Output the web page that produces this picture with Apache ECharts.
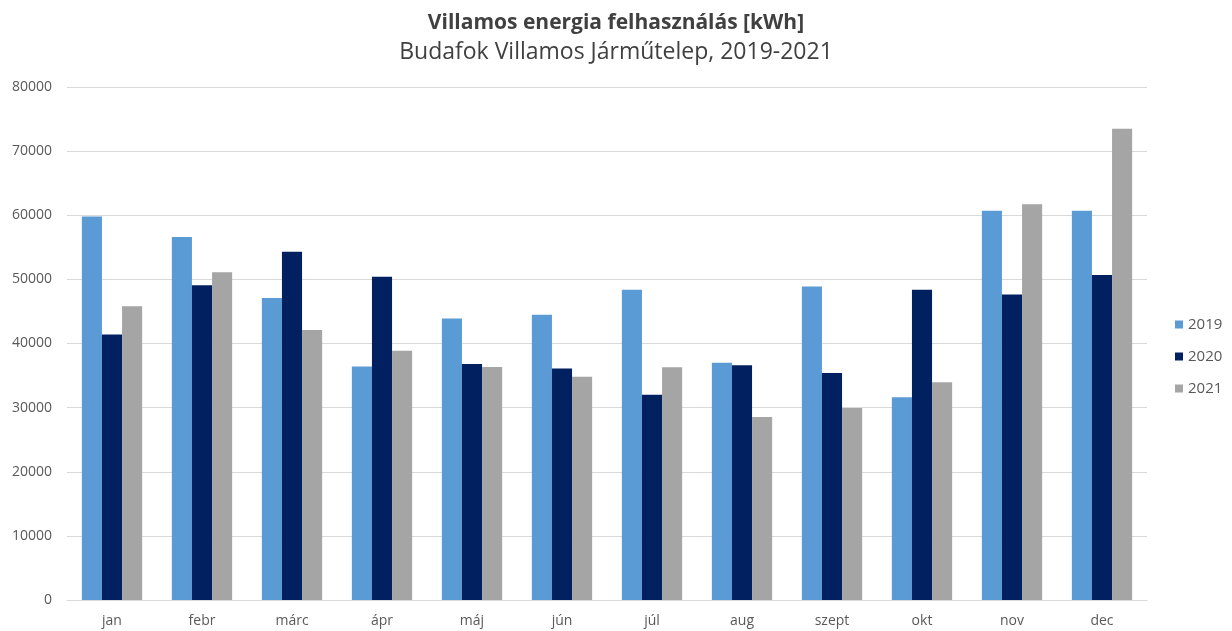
<!DOCTYPE html>
<html>
<head>
<meta charset="utf-8">
<script src="https://cdn.jsdelivr.net/npm/echarts@6/dist/echarts.min.js"></script>
<style>
html,body{margin:0;padding:0;background:#fff;}
#chart{width:1232px;height:631px;}
</style>
</head>
<body>
<div id="chart"></div>
<script>
const titleText = 'Villamos energia felhasználás [kWh]';
const subtitleText = 'Budafok Villamos Járműtelep, 2019-2021';
const categories = ['jan','febr','márc','ápr','máj','jún','júl','aug','szept','okt','nov','dec'];
const seriesNames = ['2019','2020','2021'];
const values2019 = [59800,56600,47100,36400,43900,44500,48400,37000,48900,31600,60700,60700];
const values2020 = [41400,49100,54300,50400,36800,36100,32000,36600,35400,48400,47650,50700];
const values2021 = [45800,51100,42100,38850,36350,34800,36300,28550,29950,33950,61700,73500];
const colors = ['#5B9BD5','#002060','#A5A5A5'];

const font = '"Open Sans", "Liberation Sans", sans-serif';
const chart = echarts.init(document.getElementById('chart'), null, {renderer:'canvas'});
const data = [values2019, values2020, values2021];
chart.setOption({
  animation:false,
  backgroundColor:'#fff',
  title:{
    text:titleText,
    subtext:subtitleText,
    left:'center',
    top:7,
    itemGap:7,
    textStyle:{fontFamily:font,fontSize:21,lineHeight:22,fontWeight:'bold',color:'#404040'},
    subtextStyle:{fontFamily:font,fontSize:23,lineHeight:22,color:'#404040'}
  },
  legend:{
    orient:'vertical',
    left:1170,
    top:312,
    itemWidth:8,
    itemHeight:8,
    itemGap:17,
    icon:'rect',
    textStyle:{fontFamily:font,fontSize:15,color:'#595959'},
    data:seriesNames
  },
  grid:{left:67,right:85,top:87,bottom:31,containLabel:false},
  xAxis:{
    type:'category',
    data:categories,
    axisLine:{lineStyle:{color:'#d9d9d9',width:1}},
    axisTick:{show:false},
    axisLabel:{fontFamily:font,fontSize:14,color:'#595959',margin:14}
  },
  yAxis:{
    type:'value',
    min:0,max:80000,interval:10000,
    axisLine:{show:false},
    axisTick:{show:false},
    splitLine:{lineStyle:{color:'#d9d9d9',width:1}},
    axisLabel:{fontFamily:font,fontSize:14,color:'#595959',margin:15,formatter:v=>String(v)}
  },
  series:seriesNames.map((n,i)=>({
    name:n,
    type:'bar',
    data:data[i],
    barGap:'0%',
    barCategoryGap:'33%',
    itemStyle:{color:colors[i]}
  }))
});
</script>
</body>
</html>
